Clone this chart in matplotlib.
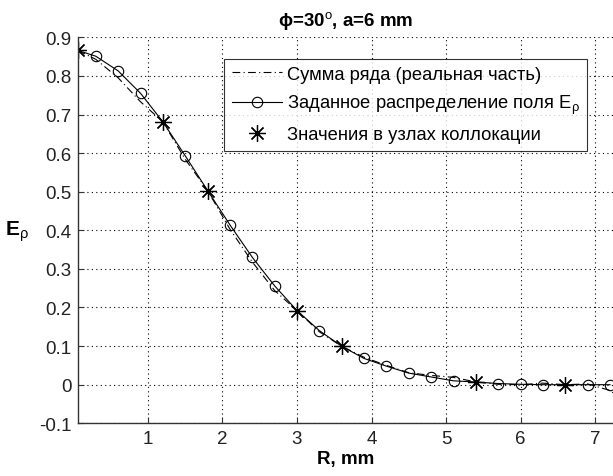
import numpy as np
import matplotlib
matplotlib.use("Agg")
import matplotlib.pyplot as plt

plt.rcParams['font.family'] = ['Liberation Sans', 'DejaVu Sans']
plt.rcParams['mathtext.fontset'] = 'custom'
plt.rcParams['mathtext.rm'] = 'Liberation Sans'
plt.rcParams['mathtext.it'] = 'Liberation Sans'
plt.rcParams['mathtext.bf'] = 'Liberation Sans:bold'

# given field distribution (solid line with circles)
r_given = [0.06, 0.3, 0.6, 0.9, 1.2, 1.5, 1.8, 2.1, 2.4, 2.7, 3.0, 3.3, 3.6,
           3.9, 4.2, 4.5, 4.8, 5.1, 5.4, 5.7, 6.0, 6.3, 6.6, 6.9, 7.2]
e_given = [0.866, 0.851, 0.813, 0.755, 0.681, 0.593, 0.503, 0.414, 0.330,
           0.256, 0.192, 0.140, 0.0995, 0.068, 0.048, 0.030, 0.020, 0.010,
           0.007, 0.003, 0.001, 0.000, 0.000, 0.000, 0.000]

# series sum (real part), dash-dot
r_sum = [0.06, 0.3, 0.6, 0.9, 1.2, 1.5, 1.8, 2.1, 2.4, 2.7, 3.0, 3.3, 3.6,
         3.9, 4.2, 4.5, 4.8, 5.1, 5.4, 5.7, 6.0, 6.3, 6.6, 6.9, 7.2, 7.3]
e_sum = [0.866, 0.843, 0.795, 0.733, 0.681, 0.584, 0.503, 0.403, 0.318,
         0.244, 0.192, 0.137, 0.0995, 0.071, 0.050, 0.031, 0.024, 0.019,
         0.007, 0.001, 0.000, 0.004, 0.000, 0.002, -0.015, -0.030]

# collocation nodes
r_nodes = [0.06, 1.2, 1.8, 3.0, 3.6, 5.4, 6.6]
e_nodes = [0.866, 0.681, 0.503, 0.192, 0.0995, 0.007, 0.000]

fig = plt.figure(figsize=(6.13, 4.77), dpi=100)
ax = fig.add_axes([0.1277, 0.1105, 0.8723, 0.8092])

circ_idx = [i for i, r in enumerate(r_given) if r not in r_nodes]

ax.plot(r_sum, e_sum, color='black', lw=0.8, ls=(0, (7, 3, 1, 3)),
        label='Сумма ряда (реальная часть)')
ax.plot(r_given, e_given, color='black', lw=0.8, marker='o', markersize=7.5,
        markerfacecolor='none', markeredgewidth=0.8, markevery=circ_idx,
        label='Заданное распределение поля E$_{\\mathrm{ρ}}$')
ax.plot(r_nodes, e_nodes, ls='none', marker=(8, 2, 0), markersize=12,
        color='black', markeredgewidth=0.9,
        label='Значения в узлах коллокации')

ax.set_xlim(0.065, 7.24)
ax.set_ylim(-0.1, 0.9)
ax.set_xticks([1, 2, 3, 4, 5, 6, 7])
ax.set_yticks(np.round(np.arange(-0.1, 0.91, 0.1), 1))
ax.set_yticklabels(['-0.1', '0', '0.1', '0.2', '0.3', '0.4', '0.5', '0.6',
                    '0.7', '0.8', '0.9'])
ax.tick_params(direction='in', length=4, width=0.8, labelsize=13.5, pad=5,
               colors='#333333')
ax.tick_params(axis='both', labelcolor='#222222')

for s in ['top', 'right']:
    ax.spines[s].set_visible(False)
for s in ['left', 'bottom']:
    ax.spines[s].set_linewidth(1.0)
    ax.spines[s].set_color('#333333')

ax.grid(True, ls=(0, (1, 3)), color='black', lw=0.8)

ax.set_title('ϕ=30$^\\mathrm{o}$, a=6 mm', fontsize=13.5, fontweight='bold', pad=9)
ax.set_xlabel('R, mm', fontsize=13.5, fontweight='bold', labelpad=2)
ax.set_ylabel('E$_{\\mathrm{ρ}}$', fontsize=15, fontweight='bold', rotation=0,
              labelpad=16, va='center')

leg = ax.legend(loc='upper left', bbox_to_anchor=(0.273, 0.945), fontsize=13.2,
                frameon=True, fancybox=False, edgecolor='black',
                handlelength=2.75, handletextpad=0.25, borderpad=0.4,
                labelspacing=0.55, borderaxespad=0)
leg.get_frame().set_linewidth(0.8)

fig.savefig('out.png', dpi=100)
